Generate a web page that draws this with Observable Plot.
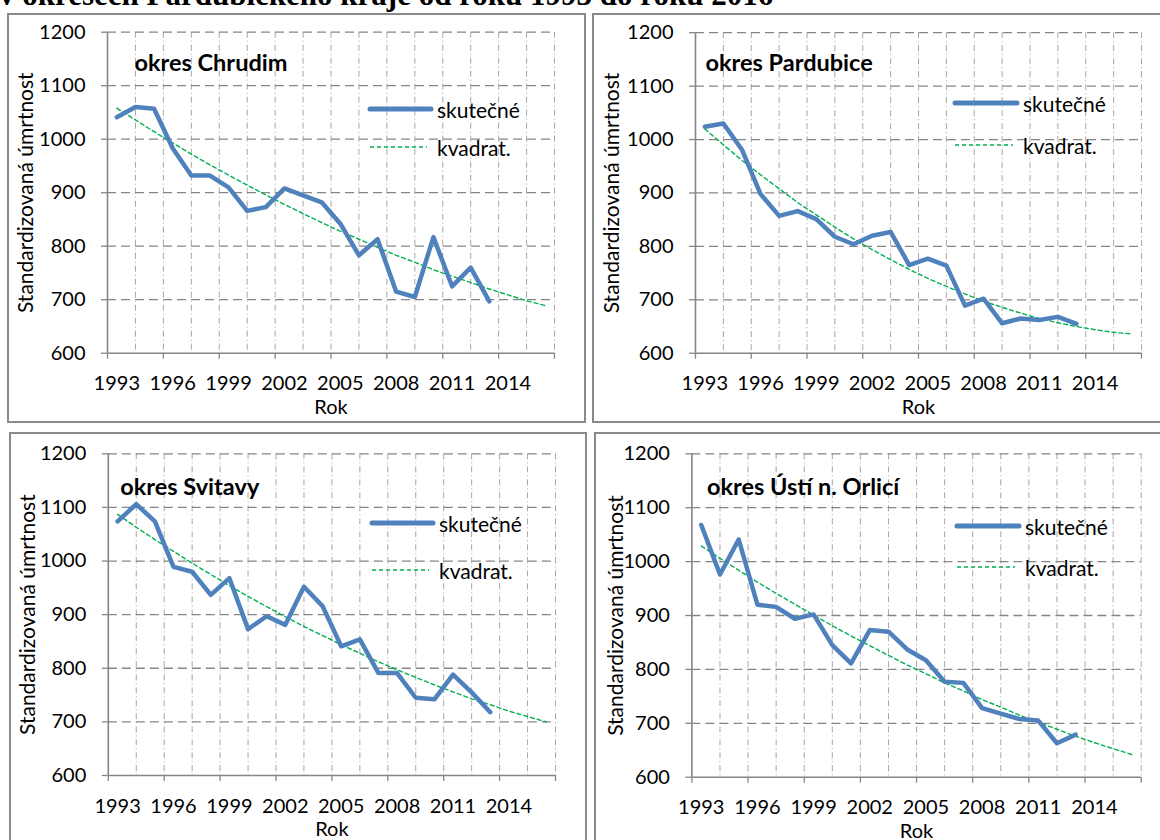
<!DOCTYPE html>
<html>
<head>
<meta charset="utf-8">
<script src="https://cdn.jsdelivr.net/npm/d3@7"></script>
<script src="https://cdn.jsdelivr.net/npm/@observablehq/plot@0.6"></script>
<style>
  html, body { margin: 0; padding: 0; background: #fff; }
  body { width: 1160px; height: 840px; overflow: hidden; position: relative; font-family: Lato, sans-serif; }
  .box { position: absolute; border: 2px solid #8a8a8a; box-sizing: border-box; }
  .chart { position: absolute; }
  .overlay { position: absolute; left: 0; top: 0; pointer-events: none; }
</style>
</head>
<body>
<script>
// ---- data ----
const heading = "v okresech Pardubického kraje od roku 1993 do roku 2016";
const yearsAll = [1993,1994,1995,1996,1997,1998,1999,2000,2001,2002,2003,2004,2005,2006,2007,2008,2009,2010,2011,2012,2013,2014,2015,2016];
const yearsObs = [1993,1994,1995,1996,1997,1998,1999,2000,2001,2002,2003,2004,2005,2006,2007,2008,2009,2010,2011,2012,2013];
const xLabelYears = [1993,1996,1999,2002,2005,2008,2011,2014];
const xTickYears = [1992.5,1995.5,1998.5,2001.5,2004.5,2007.5,2010.5,2013.5,2016.5];
const xGridYears = [1994,1995.5,1997,1998.5,2000,2001.5,2003,2004.5,2006,2007.5,2009,2010.5,2012,2013.5,2015,2016.5];
const yTicks = [600,700,800,900,1000,1100,1200];
const yGrid = [700,800,900,1000,1100,1200];
const seriesNames = ["skutečné", "kvadrat."];
const yTitle = "Standardizovaná úmrtnost";
const xTitle = "Rok";

const chrudimName = "okres Chrudim";
const chrudimObs = [1041,1060,1057,983,932,932,910,866,873,908,895,882,842,783,813,715,705,817,725,760,697];
const chrudimTrend = [1058,1036,1014,993,972,952,933,914,896,878,861,844,828,813,798,783,770,756,744,732,720,709,698,689];

const pardubiceName = "okres Pardubice";
const pardubiceObs = [1024,1030,981,898,857,866,851,818,804,820,827,765,777,764,689,702,656,665,662,668,655];
const pardubiceTrend = [1020,990,961,934,908,882,859,836,814,794,775,757,740,725,711,697,686,675,665,657,650,644,639,636];

const svitavyName = "okres Svitavy";
const svitavyObs = [1074,1106,1074,989,980,937,968,873,897,881,952,916,841,854,791,791,745,742,788,755,718];
const svitavyTrend = [1087,1063,1040,1018,996,975,954,934,915,896,878,861,844,828,812,797,783,769,756,743,732,720,710,700];

const ustiName = "okres Ústí n. Orlicí";
const ustiObs = [1068,976,1041,920,916,894,902,845,811,873,870,837,817,777,775,728,718,708,705,663,679];
const ustiTrend = [1029,1006,984,962,941,921,901,881,862,844,826,808,792,775,760,744,730,715,702,689,676,664,653,642];

// ---- layout ----
const panels = [
  {name: chrudimName, obs: chrudimObs, trend: chrudimTrend,
   left: 7, top: 13, w: 579, h: 410, ml: 100, mr: 32, mt: 18.7, mb: 70.3,
   tdx: 27, tdy: 31, ytx: 81,
   leg: {x1: 370, x2: 431, tx: 437, y1: 109, y2: 147}},
  {name: pardubiceName, obs: pardubiceObs, trend: pardubiceTrend,
   left: 592, top: 13, w: 578, h: 410, ml: 103, mr: 29, mt: 19.2, mb: 70.3,
   tdx: 10, tdy: 30.5, ytx: 83,
   leg: {x1: 955, x2: 1017, tx: 1023, y1: 103, y2: 145}},
  {name: svitavyName, obs: svitavyObs, trend: svitavyTrend,
   left: 9, top: 432, w: 578, h: 418, ml: 98.8, mr: 32, mt: 21.3, mb: 75,
   tdx: 12, tdy: 33.4, ytx: 80,
   leg: {x1: 372, x2: 433, tx: 439, y1: 523, y2: 570}},
  {name: ustiName, obs: ustiObs, trend: ustiTrend,
   left: 594, top: 432, w: 576, h: 418, ml: 97.4, mr: 29.3, mt: 21.3, mb: 73.3,
   tdx: 15, tdy: 33.4, ytx: 76,
   leg: {x1: 957, x2: 1019, tx: 1025, y1: 526, y2: 567}}
];

const BLUE = "#4F81BD", GREEN = "#00B050", AXIS = "#868686";

for (const p of panels) {
  const box = document.createElement("div");
  box.className = "box";
  Object.assign(box.style, {left: p.left + "px", top: p.top + "px", width: p.w + "px", height: p.h + "px"});
  document.body.appendChild(box);

  const obs = yearsObs.map((y, i) => ({year: y, value: p.obs[i]}));
  const trend = yearsAll.map((y, i) => ({year: y, value: p.trend[i]}));

  const chart = Plot.plot({
    width: p.w, height: p.h,
    marginLeft: p.ml, marginRight: p.mr, marginTop: p.mt, marginBottom: p.mb,
    style: {fontFamily: "Lato, sans-serif", fontSize: "20px", color: "#000", background: "transparent", overflow: "visible"},
    x: {domain: [1992.5, 2016.5]},
    y: {domain: [600, 1200]},
    marks: [
      Plot.ruleX(xGridYears, {stroke: "#a6a6a6", strokeWidth: 1, strokeDasharray: "6,3,1,3"}),
      Plot.ruleY(yGrid, {stroke: AXIS, strokeWidth: 1.3, strokeDasharray: "9,5"}),
      Plot.axisX(xLabelYears, {tickSize: 0, tickPadding: 23, tickFormat: d => String(d), label: null}),
      Plot.axisX(xTickYears, {tickSize: 6, tickFormat: () => "", label: null, stroke: AXIS, strokeWidth: 1.3}),
      Plot.axisY(yTicks, {tickSize: 6, tickPadding: 16, tickFormat: d => String(d), label: null, stroke: AXIS, strokeWidth: 1.3}),
      Plot.ruleX([1992.5], {stroke: AXIS, strokeWidth: 1.6}),
      Plot.ruleY([600], {stroke: AXIS, strokeWidth: 1.6}),
      Plot.line(trend, {x: "year", y: "value", stroke: GREEN, strokeWidth: 1.4, strokeDasharray: "4,3"}),
      Plot.line(obs, {x: "year", y: "value", stroke: BLUE, strokeWidth: 4.5, strokeLinejoin: "round", strokeLinecap: "round"}),
      Plot.text([p.name], {text: d => d, frameAnchor: "top-left", textAnchor: "start", lineAnchor: "middle",
        dx: p.tdx, dy: p.tdy, fontWeight: "bold", fontSize: 23.5}),
      Plot.text([yTitle], {text: d => d, frameAnchor: "left", textAnchor: "middle", lineAnchor: "middle",
        rotate: -90, dx: -p.ytx, fontSize: 21}),
      Plot.text([xTitle], {text: d => d, frameAnchor: "bottom", lineAnchor: "middle", dy: 54, fontSize: 20})
    ]
  });
  chart.classList.add("chart");
  chart.style.left = p.left + "px";
  chart.style.top = p.top + "px";
  document.body.appendChild(chart);
}

// heading (cut off at the top, as in the source) and legends, drawn in an overlay
const ns = "http://www.w3.org/2000/svg";
const ov = document.createElementNS(ns, "svg");
ov.setAttribute("class", "overlay");
ov.setAttribute("width", 1160);
ov.setAttribute("height", 840);
function el(tag, attrs, text) {
  const e = document.createElementNS(ns, tag);
  for (const k in attrs) e.setAttribute(k, attrs[k]);
  if (text != null) e.textContent = text;
  ov.appendChild(e);
  return e;
}
el("text", {x: -1, y: 5, "font-family": "Liberation Serif, serif", "font-weight": "bold", "font-size": 31, fill: "#000"}, heading);
for (const p of panels) {
  const L = p.leg;
  el("line", {x1: L.x1, x2: L.x2, y1: L.y1, y2: L.y1, stroke: BLUE, "stroke-width": 5, "stroke-linecap": "round"});
  el("text", {x: L.tx, y: L.y1, "dominant-baseline": "central", "font-family": "Lato, sans-serif", "font-size": 21, fill: "#000"}, seriesNames[0]);
  el("line", {x1: L.x1, x2: L.x2 - 4, y1: L.y2, y2: L.y2, stroke: GREEN, "stroke-width": 1.4, "stroke-dasharray": "4,3"});
  el("text", {x: L.tx, y: L.y2, "dominant-baseline": "central", "font-family": "Lato, sans-serif", "font-size": 21, fill: "#000"}, seriesNames[1]);
}
document.body.appendChild(ov);
</script>
</body>
</html>
